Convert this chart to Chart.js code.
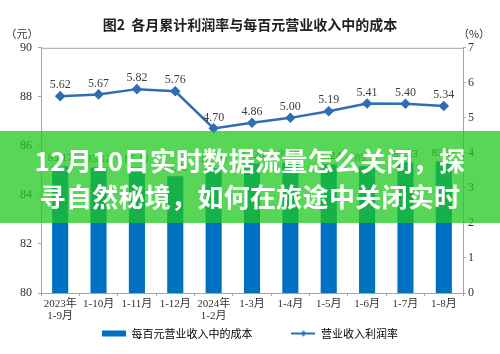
<!DOCTYPE html>
<html>
<head>
<meta charset="utf-8">
<script src="https://cdn.jsdelivr.net/npm/chart.js@4.4.1/dist/chart.umd.min.js"></script>
<style>
  html, body { margin: 0; padding: 0; background: #fff; }
  #wrap { position: relative; width: 500px; height: 354px; }
  #banner {
    position: absolute; left: 0; top: 131px; width: 500px; height: 92px;
    box-sizing: border-box; padding-top: 11px;
    background: rgba(30, 200, 30, 0.74);
    color: #fff; text-align: center;
    font: bold 26px "Noto Sans CJK SC", sans-serif; line-height: 36px; letter-spacing: 0.3px;
  }
</style>
</head>
<body>
<div id="wrap">
  <canvas id="myChart" width="500" height="354"></canvas>
  <div id="banner">12月10日实时数据流量怎么关闭，探<br>寻自然秘境，如何在旅途中关闭实时</div>
</div>
<script>
const months = [['2023年', '1-9月'], '1-10月', '1-11月', '1-12月', ['2024年', '1-2月'], '1-3月', '1-4月', '1-5月', '1-6月', '1-7月', '1-8月'];
const costPer100 = [85.17, 85.12, 85.12, 84.76, 85.09, 85.28, 85.30, 85.24, 85.17, 85.33, 85.37];
const profitRate = [5.62, 5.67, 5.82, 5.76, 4.70, 4.86, 5.00, 5.19, 5.41, 5.40, 5.34];
const legendText = ['每百元营业收入中的成本　　　', '营业收入利润率'];

const barColor = '#0070C0';
const lineColor = '#2F6EB5';
const axisColor = '#a6a6a6';
const textColor = '#333';
const serif = '"Liberation Serif", "Noto Sans CJK SC", serif';
const cjk = '"Noto Sans CJK SC", sans-serif';

// little images for the legend keys
const makeKey = (type) => {
  const c = document.createElement('canvas');
  c.width = 24; c.height = 8;
  const g = c.getContext('2d');
  if (type === 'bar') {
    g.fillStyle = barColor;
    g.fillRect(0, 1, 24, 6);
  } else {
    g.strokeStyle = lineColor;
    g.lineWidth = 2;
    g.beginPath(); g.moveTo(0, 4); g.lineTo(24, 4); g.stroke();
    g.fillStyle = lineColor;
    g.beginPath(); g.moveTo(12, 1); g.lineTo(15, 4); g.lineTo(12, 7); g.lineTo(9, 4); g.closePath(); g.fill();
  }
  return c;
};
const keys = [makeKey('bar'), makeKey('line')];

const valueLabels = {
  id: 'valueLabels',
  afterDatasetsDraw(chart) {
    const { ctx } = chart;
    ctx.save();
    ctx.fillStyle = '#404040';
    ctx.textAlign = 'center';
    ctx.textBaseline = 'bottom';
    chart.data.datasets.forEach((ds, i) => {
      const meta = chart.getDatasetMeta(i);
      ctx.font = ds.type === 'line' ? '12px ' + serif : '11px ' + serif;
      meta.data.forEach((el, j) => {
        const off = ds.type === 'line' ? 5 : 3;
        ctx.fillText(ds.data[j].toFixed(2), el.x, el.y - off);
      });
    });
    ctx.restore();
  }
};

const frame = {
  id: 'frame',
  afterDraw(chart) {
    const { ctx, chartArea } = chart;
    ctx.save();
    ctx.strokeStyle = axisColor;
    ctx.lineWidth = 1;
    ctx.beginPath();
    ctx.moveTo(chartArea.left, chartArea.top + 0.5);
    ctx.lineTo(chartArea.right, chartArea.top + 0.5);
    ctx.stroke();
    // unit labels
    ctx.fillStyle = textColor;
    ctx.font = '11px ' + cjk;
    ctx.textAlign = 'center';
    ctx.textBaseline = 'middle';
    ctx.fillText('（元）', chartArea.left - 19, chartArea.top - 14);
    ctx.fillText('（%）', chartArea.right + 11, chartArea.top - 14);
    ctx.restore();
  }
};

const ctx = document.querySelector('#myChart');

const chart = new Chart(ctx, {
  data: {
    labels: months,
    datasets: [
      {
        type: 'bar',
        label: legendText[0],
        data: costPer100,
        backgroundColor: barColor,
        barPercentage: 0.42,
        categoryPercentage: 1,
        yAxisID: 'y',
        order: 2
      },
      {
        type: 'line',
        label: legendText[1],
        data: profitRate,
        borderColor: lineColor,
        backgroundColor: lineColor,
        borderWidth: 2.5,
        pointStyle: 'rectRot',
        pointRadius: 3.5,
        tension: 0,
        yAxisID: 'y1',
        order: 1
      }
    ]
  },
  options: {
    responsive: false,
    animation: false,
    devicePixelRatio: 1,
    layout: { padding: { bottom: 5 } },
    plugins: {
      title: {
        display: true,
        text: '图2  各月累计利润率与每百元营业收入中的成本',
        color: '#222',
        font: { size: 14, family: cjk, weight: 'bold' },
        padding: { top: 16, bottom: 15 }
      },
      legend: {
        position: 'bottom',
        labels: {
          usePointStyle: true,
          pointStyleWidth: 24,
          padding: 6,
          color: textColor,
          font: { size: 11, family: cjk },
          generateLabels: (c) => c.data.datasets.map((ds, i) => ({
            text: legendText[i],
            pointStyle: keys[i],
            fillStyle: 'transparent',
            strokeStyle: 'transparent',
            lineWidth: 0,
            hidden: false,
            datasetIndex: i
          }))
        }
      },
      tooltip: { enabled: false }
    },
    scales: {
      x: {
        offset: true,
        grid: { drawOnChartArea: false, tickLength: 3, color: axisColor },
        border: { color: axisColor },
        ticks: { color: textColor, padding: 2, font: { size: 11, family: serif, lineHeight: 1.1 }, maxRotation: 0, autoSkip: false },
        afterFit: (s) => { s.height = 29; }
      },
      y: {
        position: 'left',
        min: 80,
        max: 90,
        ticks: { stepSize: 2, color: textColor, padding: 6, font: { size: 12, family: serif } },
        grid: { drawOnChartArea: false, tickLength: 3, color: axisColor },
        border: { color: axisColor },
        afterFit: (s) => { s.width = 41; }
      },
      y1: {
        position: 'right',
        min: 0,
        max: 7,
        ticks: { stepSize: 1, color: textColor, padding: 2, font: { size: 12, family: serif } },
        grid: { drawOnChartArea: false, tickLength: 3, color: axisColor },
        border: { color: axisColor },
        afterFit: (s) => { s.width = 37; }
      }
    }
  },
  plugins: [valueLabels, frame]
});
</script>
</body>
</html>
